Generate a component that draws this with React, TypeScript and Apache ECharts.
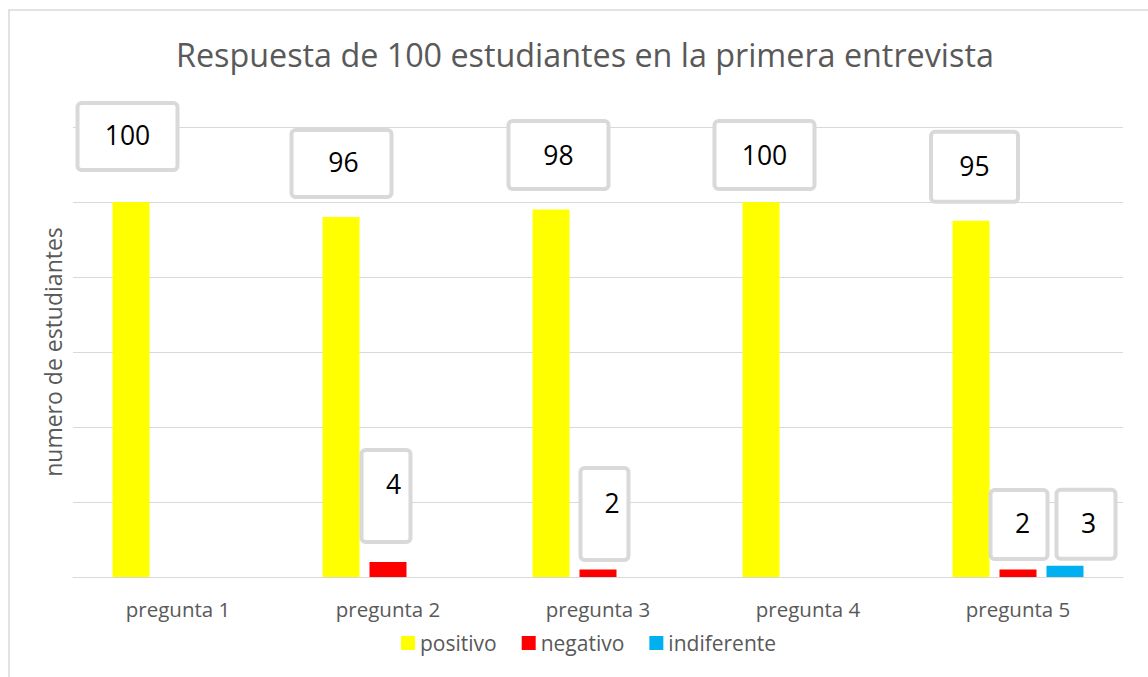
import React, { useEffect, useRef } from "react";
import * as echarts from "echarts";

const TITLE = "Respuesta de 100 estudiantes en la primera entrevista";
const Y_TITLE = "numero de estudiantes";
const CATEGORIES = ["pregunta 1", "pregunta 2", "pregunta 3", "pregunta 4", "pregunta 5"];
const POSITIVO = [100, 96, 98, 100, 95];
const NEGATIVO = [0, 4, 2, 0, 2];
const INDIFERENTE = [0, 0, 0, 0, 3];
const SERIES_NAMES = ["positivo", "negativo", "indiferente"];
const SERIES_COLORS = ["#FFFF00", "#FF0000", "#00B0F0"];

// Label callout boxes: [dx, dy (box centre vs bar top centre), outer width, outer height, text dx, text dy]
const LABEL_POS: (number[] | null)[][] = [
  [
    [-3.5, -65.5, 100, 67, 0, -1.5],
    [0.5, -53.5, 100, 67, 2, -1.5],
    [7.5, -54.5, 100, 68, 0, 0],
    [3.5, -47, 100, 68, 0, 0],
    [3.5, -54, 87, 70, 0, -1],
  ],
  [null, [-2, -66, 49, 92, 7.5, -12], [6.5, -55.5, 48, 92, 7.5, -11.5], null, [1, -45, 57, 69, 3.5, -1.5]],
  [null, null, null, null, [21, -41.5, 59, 69, 2.5, -1.5]],
];

const FONT = "'Open Sans', 'Noto Sans', sans-serif";
const GREY = "#595959";
const LINE = "#d9d9d9";
const LH = 30;

function makeLabel(l: number[] | null) {
  if (!l) return { show: false };
  const [dx, dy, W, H, tdx, tdy] = l;
  const BW = W - 4;
  const BH = H - 4;
  const cw = 10;
  const side = (BW - cw) / 2;
  const pl = side + tdx;
  const pr = side - tdx;
  const pt = BH / 2 + tdy - LH / 2;
  const pb = BH - LH - pt;
  return {
    show: true,
    position: "top",
    distance: 0,
    offset: [dx, dy + BH / 2],
    width: cw,
    height: LH,
    overflow: "none",
    lineHeight: LH,
    padding: [pt, pr, pb, pl],
    backgroundColor: "#ffffff",
    borderColor: LINE,
    borderWidth: 4,
    borderRadius: 2,
    color: "#000000",
    fontSize: 26.5,
    fontFamily: FONT,
  };
}

export default function App() {
  const ref = useRef<HTMLDivElement>(null);
  useEffect(() => {
    if (!ref.current) return;
    const chart = echarts.init(ref.current, undefined, { renderer: "svg" });
    const values = [POSITIVO, NEGATIVO, INDIFERENTE];
    chart.setOption({
      animation: false,
      backgroundColor: "#ffffff",
      graphic: [
        {
          type: "rect",
          shape: { x: 9, y: 10, width: 1300, height: 1000 },
          style: { fill: "none", stroke: LINE, lineWidth: 1.5 },
          silent: true,
        },
      ],
      title: {
        text: TITLE,
        left: 176,
        top: 34,
        padding: 0,
        textStyle: { fontFamily: FONT, fontSize: 32.3, fontWeight: "normal", color: GREY, lineHeight: 40 },
      },
      legend: {
        data: SERIES_NAMES,
        left: 401,
        top: 630,
        padding: 0,
        itemWidth: 14,
        itemHeight: 14,
        itemGap: 25,
        icon: "rect",
        textStyle: { fontFamily: FONT, fontSize: 21, color: GREY, lineHeight: 26 },
      },
      grid: { left: 73, right: 25, top: 127, bottom: 100, containLabel: false },
      xAxis: {
        type: "category",
        data: CATEGORIES,
        axisLine: { show: true, lineStyle: { color: LINE, width: 1 } },
        axisTick: { show: false },
        axisLabel: { fontFamily: FONT, fontSize: 20.5, color: GREY, margin: 21 },
      },
      yAxis: {
        type: "value",
        min: 0,
        max: 120,
        interval: 20,
        name: Y_TITLE,
        nameLocation: "middle",
        nameRotate: 90,
        nameGap: 9,
        nameTextStyle: { fontFamily: FONT, fontSize: 23, color: GREY },
        axisLabel: { show: false },
        axisLine: { show: false },
        axisTick: { show: false },
        splitLine: { lineStyle: { color: LINE, width: 1 } },
      },
      series: SERIES_NAMES.map((name, si) => ({
        name,
        type: "bar",
        barWidth: 37,
        barGap: "27%",
        itemStyle: { color: SERIES_COLORS[si] },
        data: values[si].map((v, i) => ({ value: v, label: makeLabel(LABEL_POS[si][i]) })),
      })),
    });
    return () => chart.dispose();
  }, []);
  return (
    <div
      ref={ref}
      style={{ position: "fixed", left: 0, top: 0, width: 1148, height: 677 }}
    />
  );
}
